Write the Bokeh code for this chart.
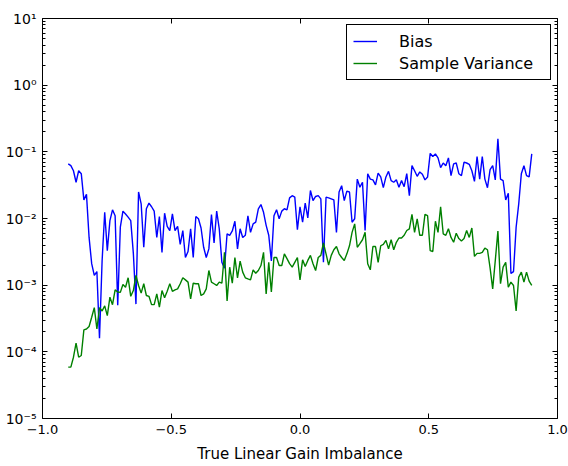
import numpy as np
from bokeh.plotting import figure
from bokeh.models import (Range1d, FixedTicker, LogAxis, LinearAxis,
                          CustomJSTickFormatter, Legend, LegendItem)
from bokeh.embed import file_html
from bokeh.resources import INLINE

# ---- data (x grid from -0.9 to 0.9) ----
x_start, x_stop = -0.9, 0.9

bias = [
    0.066, 0.062, 0.052, 0.035, 0.052, 0.047, 0.019, 0.023, 0.0052, 0.0021,
    0.0014, 0.0016, 0.00016, 0.0023, 0.0124, 0.0033, 0.0093, 0.0135, 0.011, 0.0005,
    0.0074, 0.0129, 0.0117, 0.0105, 0.0093, 0.003, 0.00052, 0.025, 0.0166, 0.0037,
    0.014, 0.017, 0.015, 0.0129, 0.0052, 0.0107, 0.0031, 0.012, 0.0076, 0.0066,
    0.0117, 0.0066, 0.0076, 0.0041, 0.0066, 0.0026, 0.0032, 0.007, 0.0026, 0.0107,
    0.0099, 0.0072, 0.0037, 0.0026, 0.0035, 0.0115, 0.0043, 0.0129, 0.007, 0.0022,
    0.0018, 0.0059, 0.0056, 0.0065, 0.0091, 0.0035, 0.007, 0.0052, 0.0056, 0.011,
    0.0062, 0.0083, 0.0088, 0.014, 0.0162, 0.0124, 0.0079, 0.0056, 0.0023, 0.011,
    0.0135, 0.0099, 0.0129, 0.014, 0.0135, 0.0204, 0.022, 0.0209, 0.0068, 0.015,
    0.0088, 0.017, 0.0102, 0.0263, 0.0186, 0.0214, 0.022, 0.0197, 0.0022, 0.0209,
    0.0204, 0.0197, 0.019, 0.0062, 0.025, 0.031, 0.0186, 0.0257, 0.025, 0.0088,
    0.0099, 0.039, 0.0295, 0.035, 0.0066, 0.047, 0.039, 0.038, 0.032, 0.048,
    0.042, 0.029, 0.042, 0.051, 0.037, 0.035, 0.038, 0.0295, 0.037, 0.030,
    0.047, 0.022, 0.062, 0.052, 0.043, 0.050, 0.046, 0.038, 0.042, 0.095,
    0.085, 0.093, 0.081, 0.058, 0.068, 0.062, 0.081, 0.044, 0.066, 0.068,
    0.047, 0.044, 0.070, 0.068, 0.065, 0.052, 0.036, 0.085, 0.039, 0.085,
    0.039, 0.029, 0.054, 0.062, 0.038, 0.157, 0.039, 0.037, 0.019, 0.024,
    0.0015, 0.0016, 0.0074, 0.0166, 0.047, 0.062, 0.044, 0.042, 0.093,
]

sample_variance = [
    5.9e-5, 5.9e-5, 8.3e-5, 1.35e-4, 8.3e-5, 8.8e-5, 2.14e-4, 2.2e-4, 2.4e-4, 3.3e-4,
    4.6e-4, 2.2e-4, 4.6e-4, 4.1e-4, 4.9e-4, 3.5e-4, 6.6e-4, 5.1e-4, 8.5e-4, 7.9e-4,
    7.8e-4, 1.02e-3, 9.3e-4, 1.29e-3, 6.8e-4, 8.3e-4, 1.4e-3, 9.9e-4, 7.6e-4, 1.05e-3,
    7.0e-4, 6.8e-4, 5.1e-4, 5.1e-4, 7.4e-4, 4.7e-4, 8.3e-4, 6.5e-4, 8.1e-4, 1.05e-3,
    8.1e-4, 8.5e-4, 8.8e-4, 1.05e-3, 1.29e-3, 1.2e-3, 1.11e-3, 6.2e-4, 1.07e-3, 1.05e-3,
    1.05e-3, 7.0e-4, 7.4e-4, 8.8e-4, 1.66e-3, 1.11e-3, 1.05e-3, 9.9e-4, 1.11e-3, 1.07e-3,
    3.1e-3, 5.8e-4, 1.86e-3, 1.07e-3, 2.6e-3, 1.29e-3, 2.3e-3, 1.57e-3, 1.29e-3, 1.24e-3,
    1.2e-3, 1.7e-3, 1.51e-3, 1.66e-3, 1.97e-3, 3.1e-3, 7.4e-4, 2.2e-3, 7.9e-4, 2.6e-3,
    2.6e-3, 1.97e-3, 1.97e-3, 2.95e-3, 2.5e-3, 2.1e-3, 1.86e-3, 2.2e-3, 2.6e-3, 1.2e-3,
    2.4e-3, 1.9e-3, 2.35e-3, 2.8e-3, 2.1e-3, 1.66e-3, 2.6e-3, 2.8e-3, 4.3e-3, 2.95e-3,
    2.0e-3, 2.8e-3, 3.4e-3, 3.8e-3, 2.95e-3, 2.6e-3, 2.35e-3, 2.95e-3, 3.9e-3, 6.2e-3,
    8.3e-3, 3.7e-3, 4.2e-3, 4.8e-3, 6.2e-3, 2.1e-3, 1.7e-3, 3.8e-3, 3.8e-3, 2.2e-3,
    3.9e-3, 4.1e-3, 4.7e-3, 3.5e-3, 4.8e-3, 3.4e-3, 4.4e-3, 5.1e-3, 5.1e-3, 5.6e-3,
    6.6e-3, 7.0e-3, 1.15e-2, 6.2e-3, 9.9e-3, 5.6e-3, 5.6e-3, 1.15e-2, 1.1e-2, 3.3e-3,
    3.2e-3, 9.1e-3, 6.2e-3, 1.5e-2, 5.9e-3, 5.6e-3, 7.0e-3, 5.2e-3, 4.4e-3, 6.0e-3,
    5.0e-3, 4.6e-3, 5.0e-3, 6.6e-3, 5.2e-3, 7.2e-3, 2.7e-3, 3.0e-3, 3.0e-3, 3.1e-3,
    3.6e-3, 3.4e-3, 1.82e-3, 8.8e-4, 2.35e-3, 6.5e-3, 1.05e-3, 1.86e-3, 2.2e-3, 9.3e-4,
    1.11e-3, 9.9e-4, 4.1e-4, 1.32e-3, 1.57e-3, 1.11e-3, 1.57e-3, 1.15e-3, 9.9e-4,
]

x_ticks = [-1.0, -0.5, 0.0, 0.5, 1.0]
y_ticks = [1e-5, 1e-4, 1e-3, 1e-2, 1e-1, 1e0, 1e1]
series_labels = ["Bias", "Sample Variance"]
x_label = "True Linear Gain Imbalance"

x = np.linspace(x_start, x_stop, len(bias))

FONT = "DejaVu Sans"

p = figure(width=568, height=466, output_backend="svg", toolbar_location=None,
           y_axis_type="log", x_range=Range1d(-1.0, 1.0), y_range=Range1d(1e-5, 10),
           min_border_left=42, min_border_right=11, min_border_top=18,
           min_border_bottom=48)
p.background_fill_color = "white"
p.border_fill_color = "white"
p.outline_line_color = "black"
p.outline_line_width = 1
p.xgrid.visible = False
p.ygrid.visible = False

r_bias = p.line(x, bias, line_color="#0000ff", line_width=1.4)
r_var = p.line(x, sample_variance, line_color="#008000", line_width=1.4)

minor_y = [k * 10.0 ** e for e in range(-5, 1) for k in range(2, 10)]
xt = FixedTicker(ticks=x_ticks, minor_ticks=[])
yt = FixedTicker(ticks=y_ticks, minor_ticks=minor_y)

x_fmt = CustomJSTickFormatter(code="""
    return (tick < 0 ? '\\u2212' : '') + Math.abs(tick).toFixed(1);
""")
y_fmt = CustomJSTickFormatter(code="""
    const sup = {'-':'\\u207B','0':'\\u2070','1':'\\u00B9','2':'\\u00B2','3':'\\u00B3',
                 '4':'\\u2074','5':'\\u2075','6':'\\u2076','7':'\\u2077','8':'\\u2078','9':'\\u2079'};
    const e = Math.round(Math.log10(tick));
    return '10' + String(e).split('').map(c => sup[c]).join('');
""")
blank = CustomJSTickFormatter(code="return '';")

def style_axis(ax, ticker, fmt, minor=True):
    ax.ticker = ticker
    ax.formatter = fmt
    ax.axis_line_color = None
    ax.major_tick_in = 5
    ax.major_tick_out = 0
    ax.minor_tick_in = 3 if minor else 0
    ax.minor_tick_out = 0
    ax.major_tick_line_color = "black"
    ax.minor_tick_line_color = "black"
    ax.major_label_text_font = FONT
    ax.major_label_text_color = "black"

xa = p.xaxis[0]
style_axis(xa, xt, x_fmt, minor=False)
xa.major_label_text_font_size = "13px"
xa.major_label_standoff = 6
xa.axis_label = x_label
xa.axis_label_text_font = FONT
xa.axis_label_text_font_size = "15px"
xa.axis_label_text_font_style = "normal"
xa.axis_label_text_color = "black"
xa.axis_label_standoff = 8

ya = p.yaxis[0]
style_axis(ya, yt, y_fmt)
ya.major_label_text_font_size = "14px"
ya.major_label_standoff = 6

top = LinearAxis()
style_axis(top, FixedTicker(ticks=x_ticks, minor_ticks=[]), blank, minor=False)
top.major_label_standoff = 0
p.add_layout(top, "above")

right = LogAxis()
style_axis(right, FixedTicker(ticks=y_ticks, minor_ticks=minor_y), blank)
right.major_label_standoff = 0
p.add_layout(right, "right")

legend = Legend(items=[LegendItem(label=series_labels[0], renderers=[r_bias]),
                       LegendItem(label=series_labels[1], renderers=[r_var])],
                location="top_right")
legend.margin = 6
legend.padding = 6
legend.spacing = 2
legend.glyph_width = 24
legend.glyph_height = 20
legend.label_standoff = 22
legend.label_width = 145
legend.label_text_font = FONT
legend.label_text_font_size = "16px"
legend.label_text_color = "black"
legend.border_line_color = "black"
legend.border_line_width = 1
legend.border_line_alpha = 1
legend.background_fill_color = "white"
legend.background_fill_alpha = 1
p.add_layout(legend, "center")

open("out.html", "w").write(file_html(p, INLINE))
